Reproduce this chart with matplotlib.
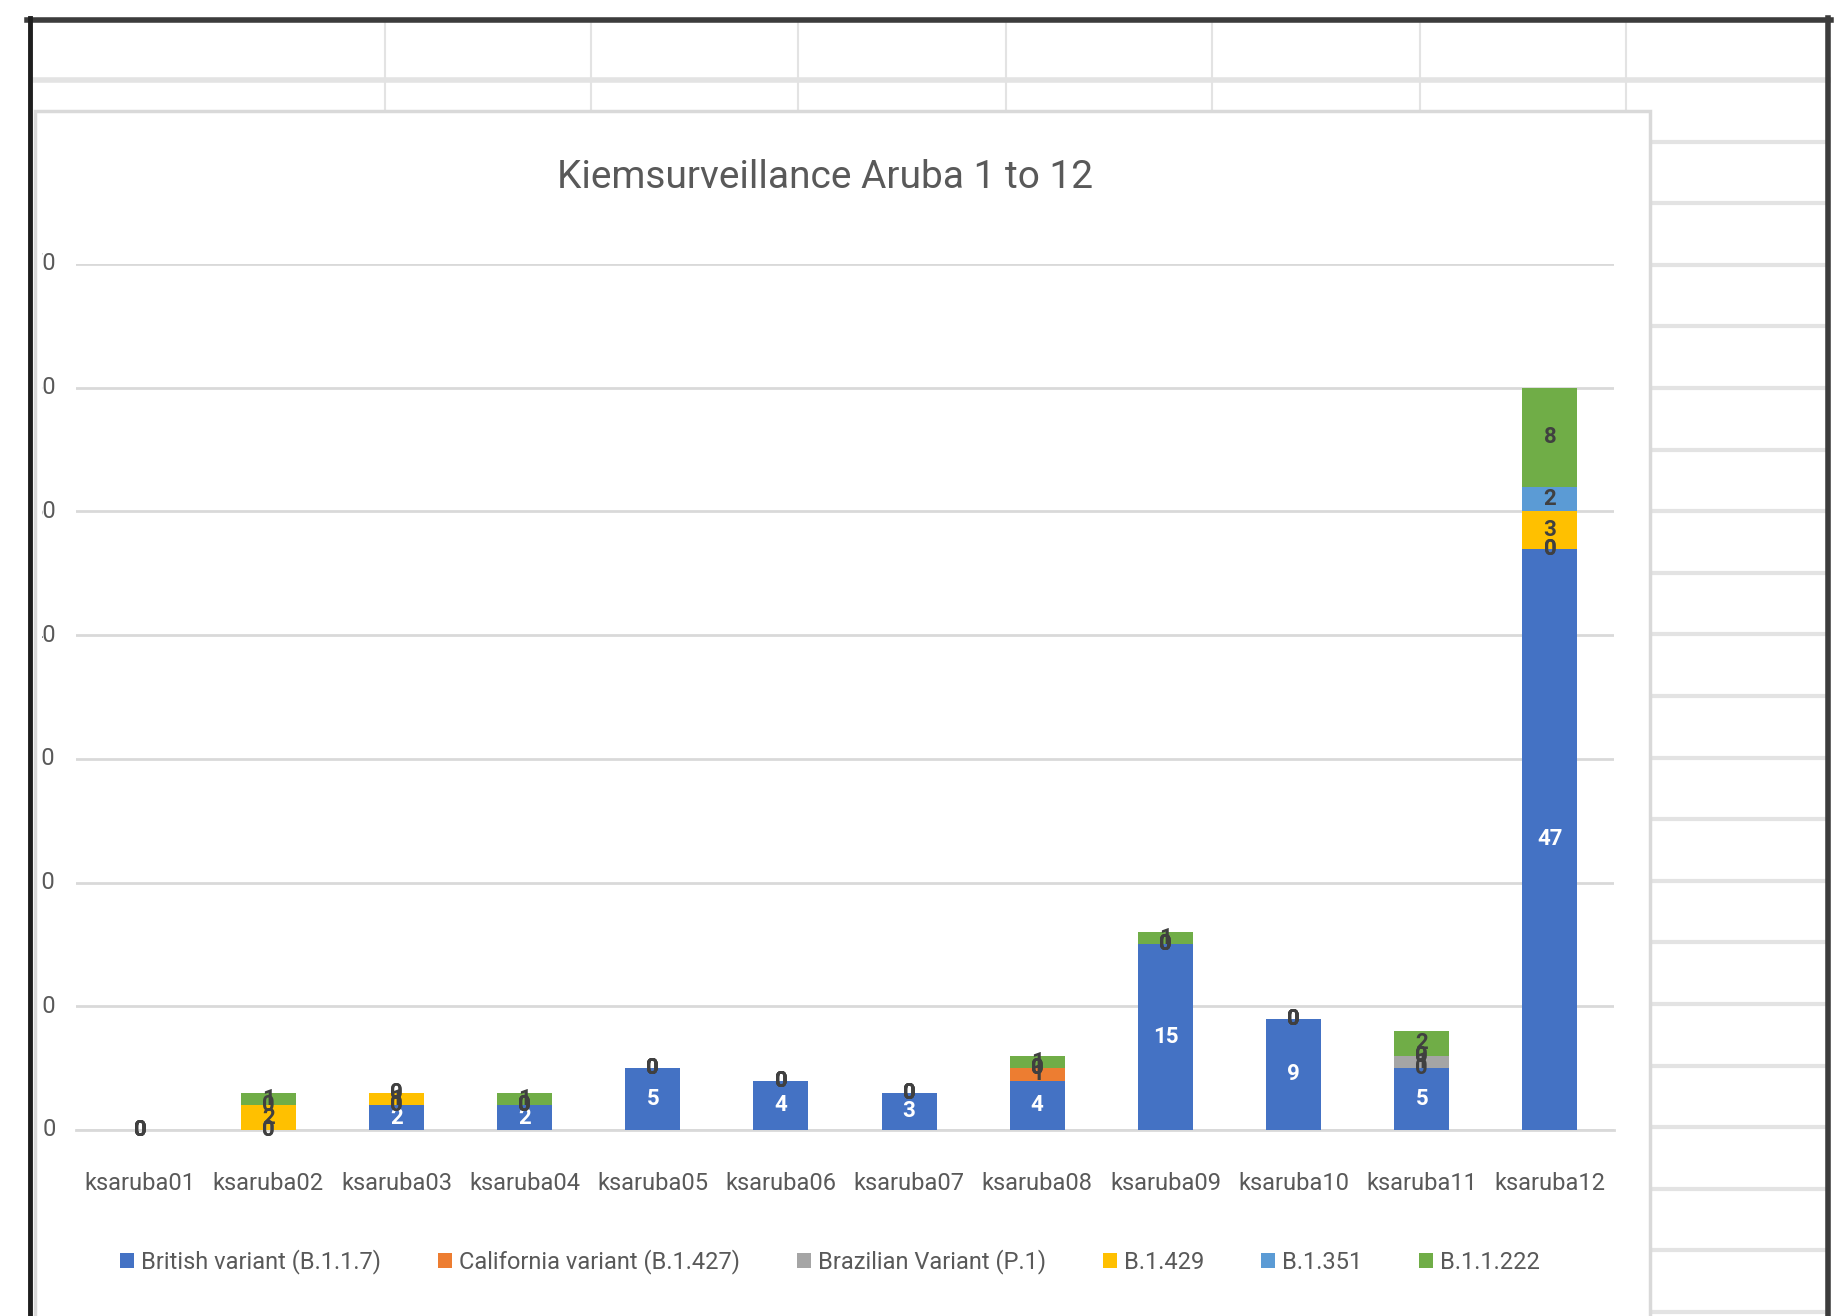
import matplotlib
matplotlib.use('Agg')
import matplotlib.pyplot as plt
from matplotlib.lines import Line2D
from matplotlib.patches import Rectangle
from matplotlib.transforms import Bbox, TransformedBbox, blended_transform_factory
import numpy as np

plt.rcParams['font.family'] = ['Roboto', 'DejaVu Sans']

# ---------------- data ----------------
categories = ['ksaruba01', 'ksaruba02', 'ksaruba03', 'ksaruba04', 'ksaruba05', 'ksaruba06',
              'ksaruba07', 'ksaruba08', 'ksaruba09', 'ksaruba10', 'ksaruba11', 'ksaruba12']
series_names = ['British variant (B.1.1.7)', 'California variant (B.1.427)',
                'Brazilian Variant (P.1)', 'B.1.429', 'B.1.351', 'B.1.1.222']
british = [0, 0, 2, 2, 5, 4, 3, 4, 15, 9, 5, 47]
california = [0, 0, 0, 0, 0, 0, 0, 1, 0, 0, 0, 0]
brazilian = [0, 0, 0, 0, 0, 0, 0, 0, 0, 0, 1, 0]
b1429 = [0, 2, 1, 0, 0, 0, 0, 0, 0, 0, 0, 3]
b1351 = [0, 0, 0, 0, 0, 0, 0, 0, 0, 0, 0, 2]
b11222 = [0, 1, 0, 1, 0, 0, 0, 1, 1, 0, 2, 8]
yticks = [0, 10, 20, 30, 40, 50, 60, 70]
title = 'Kiemsurveillance Aruba 1 to 12'

colors = ['#4472C4', '#ED7D31', '#A5A5A5', '#FFC000', '#5B9BD5', '#70AD47']
label_colors = ['white', '#404040', '#404040', '#404040', '#404040', '#404040']

W, H = 1840, 1316
fig = plt.figure(figsize=(W / 100, H / 100), dpi=100)
fig.patch.set_facecolor('white')

def fx(x):
    return x / W

def fy(y):
    return 1 - y / H

def hline(y, x0, x1, color='#E3E3E3', lw=2.5, z=0):
    fig.add_artist(Line2D([fx(x0), fx(x1)], [fy(y), fy(y)], transform=fig.transFigure,
                          color=color, lw=lw, zorder=z))

def vline(x, y0, y1, color='#E3E3E3', lw=2.5, z=0):
    fig.add_artist(Line2D([fx(x), fx(x)], [fy(y0), fy(y1)], transform=fig.transFigure,
                          color=color, lw=lw, zorder=z))

# ---------- spreadsheet background ----------
hline(80, 35, 1828, lw=4)
for x in [385, 591, 798, 1006, 1212, 1420, 1626]:
    vline(x, 21, 111, lw=1.5)
y = 80 + 61.6
while y < H:
    hline(y, 1650, 1828, lw=3)
    y += 61.6

# chart area
fig.add_artist(Rectangle((fx(35), fy(H + 5)), fx(1650) - fx(35), fy(111) - fy(H + 5),
                         transform=fig.transFigure, facecolor='white', edgecolor='#D9D9D9',
                         lw=2.5, zorder=1))

# dark window borders
hline(20, 27, 1831, color='#3C3C3C', lw=4, z=5)
vline(30, 18, H, color='#1E1E1E', lw=3.5, z=5)
vline(1828, 18, H, color='#3C3C3C', lw=4, z=5)

# ---------- axes ----------
ax = fig.add_axes([fx(76), fy(1130), fx(1614) - fx(76), fy(264) - fy(1130)])
ax.set_zorder(3)
ax.patch.set_alpha(0)
x = np.arange(len(categories))
data = [british, california, brazilian, b1429, b1351, b11222]
bottom = np.zeros(len(categories))
bw = 0.43
for vals, col, name, lc in zip(data, colors, series_names, label_colors):
    vals = np.array(vals, dtype=float)
    ax.bar(x, vals, bw, bottom=bottom, color=col, label=name, zorder=3)
    for i, v in enumerate(vals):
        ax.text(x[i], bottom[i] + v / 2, f'{int(v)}', ha='center', va='center',
                color=lc, fontsize=16, fontweight='bold', zorder=4)
    bottom += vals

ax.set_xlim(-0.5, len(categories) - 0.5)
ax.set_ylim(0, 70)
ax.set_yticks(yticks)
ax.set_yticklabels([])
ax.tick_params(axis='y', length=0)
ax.tick_params(axis='x', length=0, pad=30, labelsize=17, labelcolor='#595959')
ax.set_xticks(x)
ax.set_xticklabels(categories)
ax.grid(axis='y', color='#D9D9D9', lw=2, zorder=0)
for s in ['top', 'right', 'left']:
    ax.spines[s].set_visible(False)
ax.spines['bottom'].set_color('#D9D9D9')
ax.spines['bottom'].set_linewidth(2)

# y tick labels, clipped by the chart's left edge as in the screenshot
tr = blended_transform_factory(fig.transFigure, ax.transData)
clipbb = TransformedBbox(Bbox([[fx(42.5), 0], [1, 1]]), fig.transFigure)
for v in yticks:
    t = fig.text(fx(56), v, str(v), transform=tr, ha='right', va='center',
                 fontsize=17, color='#595959', zorder=4)
    t.set_clip_on(True)
    t.set_clip_box(clipbb)

fig.text(fx(825), fy(178), title, ha='center', va='center', fontsize=28,
         color='#595959', zorder=4)

handles, labels = ax.get_legend_handles_labels()
leg = fig.legend(handles, labels, loc='center', bbox_to_anchor=(fx(830), fy(1262)),
                 ncol=6, frameon=False, fontsize=17, handlelength=0.6, handleheight=0.6,
                 handletextpad=0.3, columnspacing=2.4, labelcolor='#595959')
leg.set_zorder(4)

fig.savefig('out.png', dpi=100)
